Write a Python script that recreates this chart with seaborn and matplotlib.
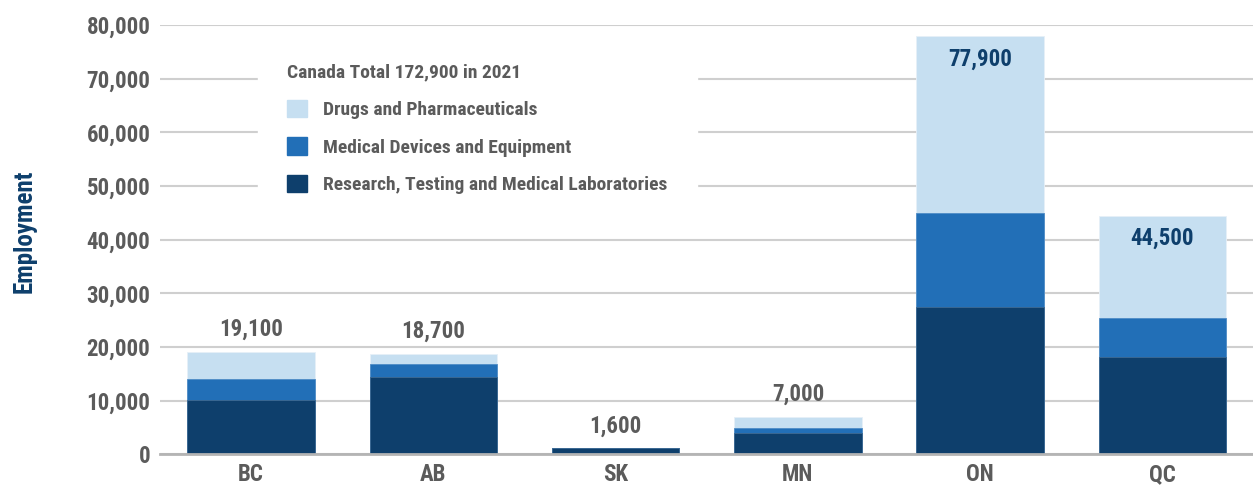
import numpy as np
import pandas as pd
import matplotlib.pyplot as plt
import seaborn as sns

# employment by province, 2021
regions = ["BC", "AB", "SK", "MN", "ON", "QC"]
research = [10200, 14500, 1100, 3900, 27400, 18200]
devices = [3800, 2300, 0, 950, 17500, 7200]
drugs = [5100, 1900, 0, 2150, 33000, 19100]
totals = ["19,100", "18,700", "1,600", "7,000", "77,900", "44,500"]
inside_label = [False, False, False, False, True, True]

series_names = ["Drugs and Pharmaceuticals", "Medical Devices and Equipment",
                "Research, Testing and Medical Laboratories"]
legend_title = "Canada Total 172,900 in 2021"

c_light = "#c6dff1"
c_mid = "#226fb7"
c_dark = "#0e3f6c"
c_text = "#5b5b5b"

sns.set_style("white")
plt.rcParams['font.family'] = ['Roboto Condensed', 'Liberation Sans Narrow', 'DejaVu Sans']
plt.rcParams['font.weight'] = "bold"

df = pd.DataFrame(dict(region=regions, research=research, devices=devices, drugs=drugs))
df["mid_top"] = df.research + df.devices
df["top"] = df.mid_top + df.drugs

fig = plt.figure(figsize=(12.53, 4.87), dpi=100)
ax = fig.add_axes([0.1277, 0.0671, 0.8727, 0.8816])

sns.barplot(data=df, x="region", y="top", color=c_light, width=0.7, saturation=1,
            edgecolor="#e6f0f8", linewidth=0.6, ax=ax, zorder=2)
sns.barplot(data=df, x="region", y="mid_top", color=c_mid, width=0.7, saturation=1,
            edgecolor="#4f8cc6", linewidth=0.6, ax=ax, zorder=2)
sns.barplot(data=df, x="region", y="research", color=c_dark, width=0.7, saturation=1,
            edgecolor="#3f6a92", linewidth=0.6, ax=ax, zorder=2)

ax.set_xlim(-0.5, 5.5)
ax.set_ylim(0, 80000)
ax.set_yticks(np.arange(0, 80001, 10000))
ax.set_yticklabels([f"{v:,}" for v in range(0, 80001, 10000)])
ax.yaxis.grid(True, color="#cfcfcf", lw=1.5, zorder=0)
ax.set_axisbelow(True)
ax.tick_params(axis="both", length=0, labelsize=16.5, labelcolor=c_text, pad=6)
ax.tick_params(axis="y", pad=7)
for lab in ax.get_xticklabels() + ax.get_yticklabels():
    lab.set_fontweight("bold")
sns.despine(ax=ax, left=True)
ax.spines["bottom"].set_color("#b4b4b4")
ax.spines["bottom"].set_linewidth(2)
ax.set_xlabel("")
ax.set_ylabel("Employment", fontsize=18, color=c_dark, fontweight="bold", labelpad=36)
ax.yaxis.label.set_y(0.52)

# total labels
for i, (tot, lbl, inside) in enumerate(zip(df.top, totals, inside_label)):
    if inside:
        ax.annotate(lbl, (i, tot), xytext=(0, -8), textcoords="offset points",
                    ha="center", va="top", fontsize=16.5, color=c_dark, fontweight="bold")
    else:
        ax.annotate(lbl, (i, tot), xytext=(0, 8), textcoords="offset points",
                    ha="center", va="bottom", fontsize=16.5, color=c_text, fontweight="bold")

handles = [plt.Rectangle((0, 0), 1, 1, color=c) for c in (c_light, c_mid, c_dark)]
leg = ax.legend(handles, series_names, title=legend_title, loc="upper left",
                bbox_to_anchor=(0.081, 1.0), frameon=True, fontsize=14,
                title_fontsize=14, alignment="left", handlelength=1.0, handleheight=1.0,
                handletextpad=0.85, labelspacing=0.93, borderpad=1.5, fancybox=False)
leg.get_frame().set_facecolor("white")
leg.get_frame().set_edgecolor("white")
leg.get_frame().set_alpha(1)
leg.set_zorder(3)
for t in leg.get_texts():
    t.set_color(c_text)
    t.set_fontweight("bold")
leg.get_title().set_color(c_text)
leg.get_title().set_fontweight("bold")

fig.savefig("out.png", dpi=100)
